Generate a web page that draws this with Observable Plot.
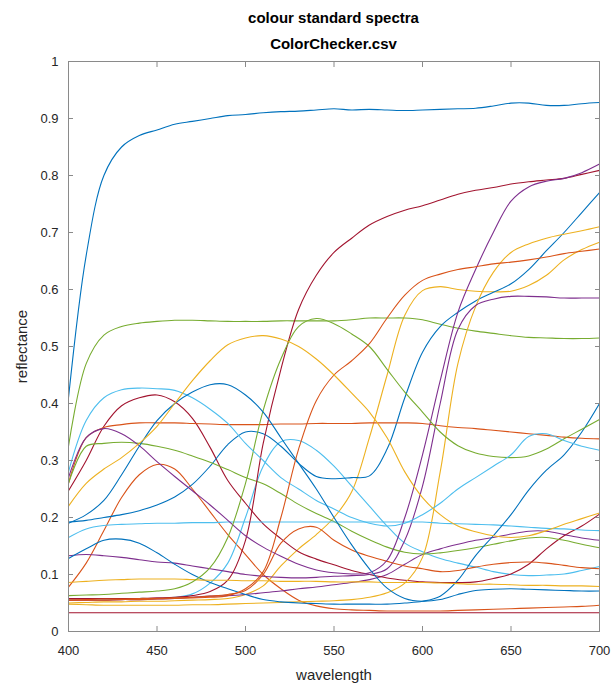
<!DOCTYPE html>
<html>
<head>
<meta charset="utf-8">
<script src="https://cdn.jsdelivr.net/npm/d3@7"></script>
<script src="https://cdn.jsdelivr.net/npm/@observablehq/plot@0.6"></script>
<style>
  body { margin: 0; background: #fff; font-family: "Liberation Sans", Arial, sans-serif; }
  #wrap { width: 613px; }
  .title { padding: 5px 14px 0 68px; margin-bottom: -6px; text-align: center; font-weight: bold; font-size: 15px; line-height: 26px; color: #000; }
  #chart { position: relative; }
  svg { display: block; }
</style>
</head>
<body>
<div id="wrap">
  <div class="title">colour standard spectra<br>ColorChecker.csv</div>
  <div id="chart"></div>
</div>
<script>
// Sampling wavelengths (nm)
const wavelengths = [400,410,420,430,440,450,460,470,480,490,500,510,520,530,540,550,560,570,580,590,600,610,620,630,640,650,660,670,680,690,700];

// Reflectance of each patch, in the column order of the CSV
const white        = [0.41,0.66,0.80,0.85,0.87,0.88,0.89,0.895,0.90,0.905,0.907,0.91,0.912,0.913,0.915,0.917,0.915,0.916,0.915,0.914,0.915,0.916,0.917,0.918,0.922,0.927,0.927,0.923,0.923,0.926,0.928];
const blue         = [0.078,0.12,0.177,0.235,0.275,0.293,0.285,0.25,0.21,0.17,0.135,0.1,0.075,0.055,0.045,0.04,0.038,0.037,0.036,0.036,0.036,0.036,0.037,0.038,0.039,0.04,0.041,0.042,0.043,0.044,0.046];
const orange       = [0.05,0.051,0.052,0.052,0.053,0.053,0.054,0.055,0.056,0.058,0.065,0.08,0.115,0.145,0.17,0.2,0.245,0.34,0.45,0.555,0.598,0.605,0.6,0.597,0.596,0.597,0.607,0.625,0.652,0.67,0.683];
const darkSkin     = [0.055,0.055,0.055,0.056,0.056,0.057,0.058,0.06,0.062,0.063,0.065,0.068,0.071,0.075,0.078,0.082,0.086,0.091,0.1,0.118,0.135,0.145,0.153,0.16,0.165,0.171,0.176,0.176,0.17,0.164,0.16];
const neutral8     = [0.325,0.47,0.52,0.535,0.541,0.544,0.546,0.546,0.545,0.544,0.544,0.544,0.545,0.545,0.545,0.545,0.547,0.55,0.55,0.55,0.547,0.539,0.532,0.527,0.523,0.519,0.516,0.515,0.514,0.514,0.515];
const green        = [0.057,0.057,0.057,0.057,0.058,0.058,0.06,0.066,0.085,0.12,0.2,0.29,0.333,0.335,0.318,0.29,0.255,0.22,0.185,0.155,0.14,0.128,0.12,0.113,0.105,0.1,0.098,0.099,0.101,0.107,0.114];
const purplishBlue = [0.247,0.3,0.36,0.396,0.41,0.415,0.403,0.374,0.323,0.265,0.225,0.189,0.163,0.14,0.127,0.117,0.107,0.1,0.094,0.09,0.087,0.086,0.086,0.087,0.093,0.101,0.118,0.145,0.168,0.185,0.206];
const lightSkin    = [0.192,0.195,0.2,0.205,0.212,0.222,0.236,0.258,0.29,0.328,0.35,0.347,0.325,0.295,0.272,0.268,0.27,0.273,0.32,0.41,0.49,0.535,0.56,0.58,0.595,0.61,0.635,0.668,0.7,0.735,0.77];
const neutral65    = [0.26,0.34,0.358,0.363,0.366,0.366,0.366,0.365,0.364,0.363,0.363,0.363,0.364,0.364,0.365,0.365,0.365,0.366,0.366,0.366,0.365,0.361,0.358,0.356,0.353,0.35,0.347,0.344,0.341,0.339,0.338];
const red          = [0.048,0.047,0.046,0.046,0.046,0.046,0.046,0.047,0.047,0.048,0.049,0.05,0.051,0.052,0.053,0.054,0.056,0.06,0.068,0.085,0.13,0.28,0.47,0.57,0.63,0.665,0.68,0.69,0.697,0.703,0.71];
const moderateRed  = [0.133,0.135,0.133,0.13,0.126,0.122,0.12,0.115,0.11,0.105,0.1,0.097,0.095,0.094,0.095,0.097,0.098,0.1,0.11,0.16,0.255,0.4,0.53,0.572,0.583,0.588,0.588,0.587,0.585,0.585,0.585];
const blueSky      = [0.26,0.325,0.33,0.332,0.33,0.325,0.318,0.308,0.297,0.284,0.27,0.259,0.242,0.223,0.207,0.193,0.176,0.161,0.148,0.139,0.136,0.138,0.142,0.147,0.153,0.159,0.164,0.165,0.16,0.153,0.147];
const neutral5     = [0.165,0.18,0.186,0.188,0.189,0.19,0.19,0.191,0.191,0.192,0.192,0.192,0.192,0.192,0.192,0.192,0.192,0.192,0.192,0.192,0.192,0.19,0.189,0.188,0.187,0.185,0.183,0.181,0.18,0.178,0.177];
const yellow       = [0.058,0.058,0.058,0.058,0.058,0.059,0.06,0.063,0.07,0.09,0.16,0.33,0.46,0.565,0.625,0.665,0.69,0.713,0.728,0.739,0.747,0.757,0.767,0.774,0.779,0.785,0.789,0.792,0.795,0.802,0.809];
const purple       = [0.128,0.145,0.16,0.162,0.155,0.138,0.118,0.1,0.086,0.075,0.065,0.056,0.052,0.05,0.049,0.048,0.048,0.048,0.048,0.05,0.053,0.062,0.09,0.133,0.168,0.205,0.248,0.283,0.31,0.35,0.4];
const foliage      = [0.055,0.056,0.057,0.057,0.058,0.058,0.059,0.06,0.062,0.065,0.072,0.1,0.155,0.18,0.183,0.16,0.143,0.132,0.123,0.115,0.11,0.105,0.107,0.113,0.118,0.121,0.122,0.12,0.116,0.112,0.11];
const neutral35    = [0.086,0.088,0.09,0.091,0.092,0.092,0.092,0.091,0.09,0.09,0.089,0.089,0.088,0.088,0.088,0.087,0.087,0.087,0.086,0.086,0.086,0.085,0.084,0.083,0.083,0.082,0.081,0.081,0.08,0.08,0.079];
const magenta      = [0.27,0.34,0.356,0.347,0.326,0.298,0.272,0.247,0.222,0.195,0.168,0.148,0.132,0.118,0.108,0.103,0.101,0.103,0.125,0.2,0.31,0.44,0.56,0.635,0.7,0.755,0.78,0.79,0.795,0.805,0.82];
const yellowGreen  = [0.063,0.064,0.065,0.067,0.069,0.071,0.075,0.087,0.112,0.165,0.26,0.388,0.478,0.535,0.549,0.54,0.522,0.5,0.46,0.42,0.385,0.35,0.326,0.313,0.307,0.305,0.308,0.32,0.338,0.355,0.372];
const blueFlower   = [0.28,0.37,0.41,0.424,0.427,0.426,0.423,0.41,0.39,0.365,0.33,0.3,0.27,0.25,0.23,0.215,0.2,0.19,0.185,0.19,0.205,0.225,0.25,0.27,0.29,0.31,0.342,0.347,0.335,0.325,0.318];
const black        = [0.033,0.033,0.033,0.033,0.033,0.033,0.033,0.033,0.033,0.033,0.033,0.033,0.033,0.033,0.033,0.033,0.033,0.033,0.033,0.033,0.033,0.033,0.033,0.033,0.033,0.033,0.033,0.033,0.033,0.033,0.033];
const cyan         = [0.19,0.205,0.23,0.275,0.325,0.37,0.4,0.42,0.433,0.433,0.415,0.385,0.34,0.295,0.25,0.2,0.152,0.11,0.076,0.058,0.053,0.056,0.065,0.072,0.074,0.075,0.074,0.073,0.072,0.071,0.071];
const orangeYellow = [0.055,0.055,0.055,0.056,0.056,0.057,0.058,0.059,0.06,0.063,0.075,0.105,0.2,0.32,0.405,0.45,0.475,0.505,0.55,0.59,0.616,0.627,0.635,0.64,0.645,0.648,0.652,0.657,0.663,0.667,0.671];
const bluishGreen  = [0.22,0.26,0.285,0.305,0.33,0.36,0.4,0.44,0.475,0.503,0.515,0.519,0.513,0.5,0.478,0.45,0.418,0.385,0.34,0.28,0.235,0.205,0.185,0.175,0.168,0.165,0.168,0.177,0.188,0.198,0.208];

const patches = [
  ["white", white], ["blue", blue], ["orange", orange], ["dark skin", darkSkin],
  ["neutral 8", neutral8], ["green", green], ["purplish blue", purplishBlue], ["light skin", lightSkin],
  ["neutral 6.5", neutral65], ["red", red], ["moderate red", moderateRed], ["blue sky", blueSky],
  ["neutral 5", neutral5], ["yellow", yellow], ["purple", purple], ["foliage", foliage],
  ["neutral 3.5", neutral35], ["magenta", magenta], ["yellow green", yellowGreen], ["blue flower", blueFlower],
  ["black", black], ["cyan", cyan], ["orange yellow", orangeYellow], ["bluish green", bluishGreen]
];

// Line colours cycle through the default MATLAB colour order
const colorOrder = ["#0072BD", "#D95319", "#EDB120", "#7E2F8E", "#77AC30", "#4DBEEE", "#A2142F"];

const xTicks = [400, 450, 500, 550, 600, 650, 700];
const yTicks = [0, 0.1, 0.2, 0.3, 0.4, 0.5, 0.6, 0.7, 0.8, 0.9, 1];

const names = patches.map(p => p[0]);
const rows = patches.flatMap(([name, values]) =>
  values.map((r, i) => ({patch: name, wl: wavelengths[i], r})));

const axisGray = "#8a8a8a";
const textColor = "#262626";

const chart = Plot.plot({
  width: 613,
  height: 639,
  marginLeft: 68,
  marginRight: 14,
  marginTop: 10,
  marginBottom: 59,
  style: {fontFamily: "'Liberation Sans', Arial, sans-serif", fontSize: "13px", color: textColor, background: "transparent"},
  x: {domain: [400, 700]},
  y: {domain: [0, 1]},
  color: {domain: names, range: names.map((_, i) => colorOrder[i % colorOrder.length])},
  marks: [
    Plot.line(rows, {x: "wl", y: "r", z: "patch", stroke: "patch", strokeWidth: 1.1, curve: "catmull-rom"}),
    Plot.frame({stroke: axisGray, strokeWidth: 1}),
    // inward tick marks on all four sides
    Plot.axisX(xTicks, {anchor: "bottom", tickSize: -5, fill: "none", stroke: axisGray, label: null}),
    Plot.axisX(xTicks, {anchor: "top", tickSize: -5, fill: "none", stroke: axisGray, label: null}),
    Plot.axisY(yTicks, {anchor: "left", tickSize: -5, fill: "none", stroke: axisGray, label: null}),
    Plot.axisY(yTicks, {anchor: "right", tickSize: -5, fill: "none", stroke: axisGray, label: null}),
    // tick labels
    Plot.axisX(xTicks, {anchor: "bottom", tickSize: 0, tickPadding: 14, fontSize: 13, fill: textColor, label: null}),
    Plot.axisY(yTicks, {anchor: "left", tickSize: 0, tickPadding: 10, fontSize: 13, fill: textColor, label: null,
      tickFormat: d => String(+d.toFixed(1))}),
    // axis titles
    Plot.text(["wavelength"], {frameAnchor: "bottom", dy: 48, fontSize: 15, fill: textColor, textAnchor: "middle"}),
    Plot.text(["reflectance"], {frameAnchor: "left", dx: -46, rotate: -90, fontSize: 15, fill: textColor, textAnchor: "middle"})
  ]
});

document.getElementById("chart").appendChild(chart);
</script>
</body>
</html>
